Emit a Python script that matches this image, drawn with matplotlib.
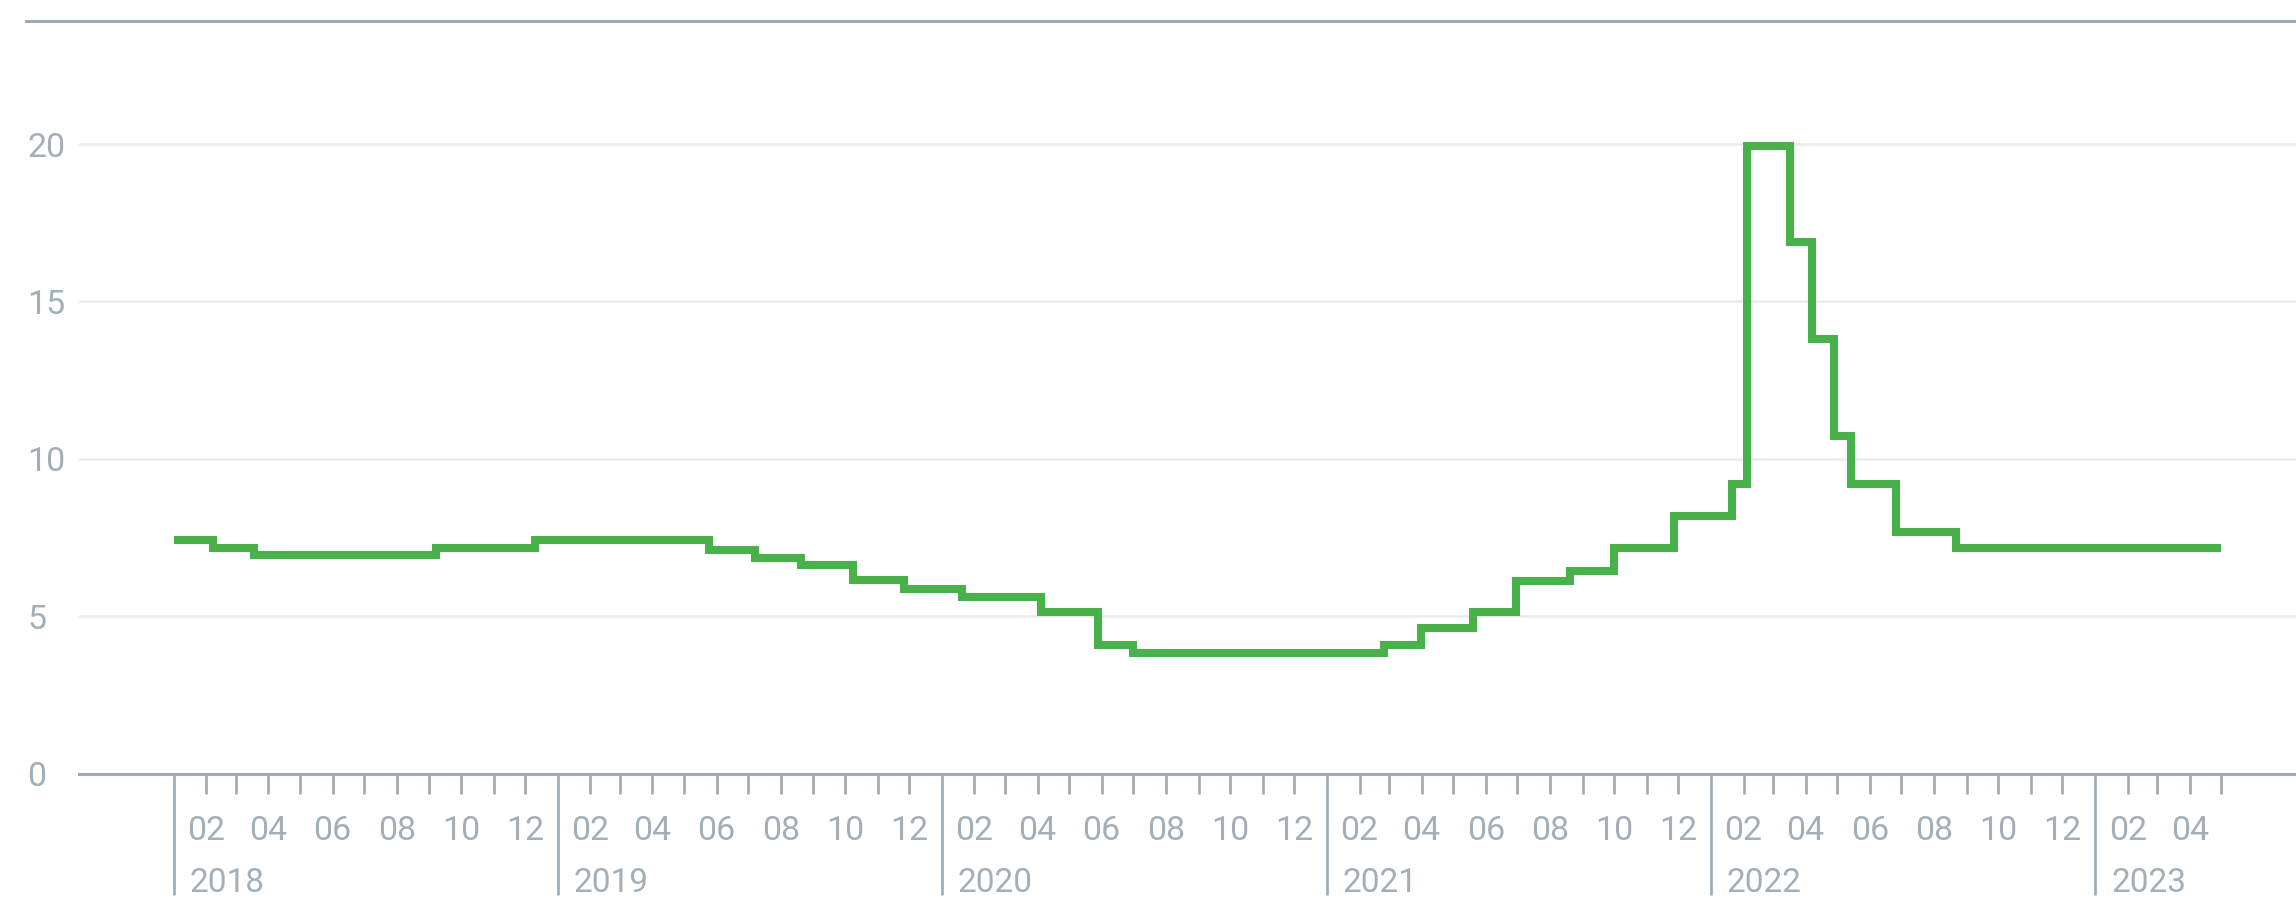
import pandas as pd
import matplotlib
matplotlib.use("Agg")
import matplotlib.pyplot as plt
from matplotlib import transforms
from matplotlib.lines import Line2D

# dates where the rate changes and the new level (step chart)
change_dates = ["2018-01-01", "2018-02-07", "2018-03-18", "2018-09-07", "2018-12-10",
                "2019-05-25", "2019-07-07", "2019-08-20", "2019-10-09", "2019-11-26",
                "2020-01-20", "2020-04-04", "2020-05-28", "2020-07-01",
                "2021-02-24", "2021-03-31", "2021-05-20", "2021-06-30", "2021-08-20",
                "2021-10-01", "2021-11-27",
                "2022-01-21", "2022-02-04", "2022-03-17", "2022-04-07", "2022-04-28",
                "2022-05-14", "2022-06-26", "2022-08-22"]
rates = [7.43, 7.17, 6.93, 7.17, 7.43,
         7.10, 6.86, 6.62, 6.15, 5.86,
         5.60, 5.14, 4.07, 3.83,
         4.10, 4.61, 5.13, 6.12, 6.43, 7.16, 8.18,
         9.21, 19.93, 16.89, 13.82, 10.72, 9.21, 7.69, 7.17]
end_date = "2023-05-01"

y_ticks = [0, 5, 10, 15, 20]
years = ["2018", "2019", "2020", "2021", "2022", "2023"]

line_color = "#48b14a"
axis_color = "#9eaab3"
label_color = "#a3afb8"
grid_color = "#ebebeb"

plt.rcParams["font.family"] = ["Roboto", "DejaVu Sans"]

W, H = 2296, 902
fig = plt.figure(figsize=(W / 100, H / 100), dpi=100)
left = 79 / W
bottom = (H - 773.6) / H
top = (H - 20.7) / H
ax = fig.add_axes([left, bottom, 1 - left, top - bottom])

x = pd.to_datetime(change_dates + [end_date])
y = rates + [rates[-1]]
ax.plot(x, y, drawstyle="steps-post", color=line_color, lw=5.8,
        solid_joinstyle="miter", solid_capstyle="butt", zorder=3)

ax.set_xlim(pd.Timestamp("2017-10-03"), pd.Timestamp("2023-07-11"))
ax.set_ylim(0, 23.92)

# y axis
ax.set_yticks(y_ticks)
ax.set_yticklabels([str(v) for v in y_ticks])
ax.tick_params(axis="y", length=0, pad=37.4, labelsize=24.5, labelcolor=label_color)
for lab in ax.get_yticklabels():
    lab.set_horizontalalignment("left")
ax.grid(axis="y", color=grid_color, lw=1.8)
ax.set_axisbelow(True)

# x axis: month ticks and year separators
year_starts = pd.to_datetime([yr + "-01-01" for yr in years])
months = pd.date_range("2018-02-01", end_date, freq="MS")
months = months[months.month != 1]
ax.set_xticks(year_starts)
ax.set_xticklabels([])
ax.set_xticks(months, minor=True)
ax.set_xticklabels([m.strftime("%m") if m.month % 2 == 0 else "" for m in months], minor=True)
ax.tick_params(axis="x", which="minor", length=14.4, width=1.9, color=axis_color,
               pad=15.5, labelsize=24.5, labelcolor=label_color)
ax.tick_params(axis="x", which="major", length=87, width=1.9, color=axis_color)

trans = transforms.offset_copy(transforms.blended_transform_factory(ax.transData, ax.transAxes),
                               fig=fig, x=16, y=-109, units="dots")
for yr, d in zip(years, year_starts):
    ax.text(d, 0, yr, transform=trans, ha="left", va="center", fontsize=24, color=label_color)

for s in ["left", "right", "top"]:
    ax.spines[s].set_visible(False)
ax.spines["bottom"].set_color(axis_color)
ax.spines["bottom"].set_linewidth(2.2)

# thin rule across the top of the chart
fig.add_artist(Line2D([26 / W, 1], [top, top], transform=fig.transFigure,
                      color=axis_color, lw=2.2))

fig.savefig("out.png", dpi=100)
